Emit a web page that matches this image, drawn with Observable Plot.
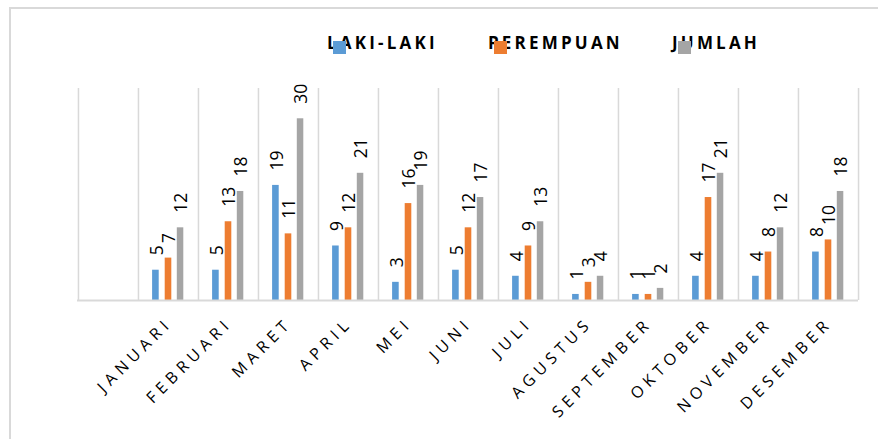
<!DOCTYPE html>
<html><head><meta charset="utf-8">
<script src="https://cdn.jsdelivr.net/npm/d3@7"></script>
<script src="https://cdn.jsdelivr.net/npm/@observablehq/plot@0.6"></script>
<style>
body{margin:0;background:#fff;}
#wrap{position:relative;width:878px;height:439px;overflow:hidden;font-family:"Open Sans",sans-serif;background:#fff;}
#frame{position:absolute;left:9px;top:7px;width:900px;height:460px;border-top:2px solid #d9d9d9;border-left:2px solid #d9d9d9;box-sizing:border-box;}
#legend{position:relative;height:70px;}
.li{position:absolute;top:34px;font-weight:700;font-size:17px;line-height:1;letter-spacing:3.2px;color:#000;white-space:nowrap;}
.sw{position:absolute;top:41px;width:13px;height:13px;}
#chart{position:relative;}
</style></head><body>
<div id="wrap"><div id="frame"></div><div id="legend"></div><div id="chart"></div></div>
<script>
const months = ["JANUARI","FEBRUARI","MARET","APRIL","MEI","JUNI","JULI","AGUSTUS","SEPTEMBER","OKTOBER","NOVEMBER","DESEMBER"];
const laki = [5,5,19,9,3,5,4,1,1,4,4,8];
const perempuan = [7,13,11,12,16,12,9,3,1,17,8,10];
const jumlah = [12,18,30,21,19,17,13,4,2,21,12,18];
const seriesNames = ["LAKI-LAKI","PEREMPUAN","JUMLAH"];
const seriesColors = ["#5b9bd5","#ed7d31","#a5a5a5"];
const seriesValues = [laki, perempuan, jumlah];

// x domain has an empty first slot as in the reference
const xDomain = ["", ...months];

// legend
const legendPos = [327, 488, 672];
const legend = document.getElementById("legend");
seriesNames.forEach((name, i) => {
  const t = document.createElement("span");
  t.className = "li"; t.textContent = name; t.style.left = legendPos[i] + "px";
  legend.appendChild(t);
  const s = document.createElement("span");
  s.className = "sw"; s.style.left = (legendPos[i] + 6) + "px"; s.style.background = seriesColors[i];
  legend.appendChild(s);
});

const insets = [[14.1, 39.3], [26.7, 26.7], [38.8, 14.7]];
const labelDx = [-11.3, 1, 13.3];

const marks = [];
marks.push(Plot.ruleX(xDomain, {x: d => d, dx: -30.04, y1: 0, y2: 35, stroke: "#d9d9d9", strokeWidth: 1.5}));
marks.push(Plot.ruleX([months[months.length - 1]], {x: d => d, dx: 30.04, y1: 0, y2: 35, stroke: "#d9d9d9", strokeWidth: 1.5}));
seriesNames.forEach((name, si) => {
  const rows = months.map((m, i) => ({month: m, value: seriesValues[si][i]}));
  marks.push(Plot.barY(rows, {x: "month", y: "value", fill: seriesColors[si], insetLeft: insets[si][0], insetRight: insets[si][1]}));
});
marks.push(Plot.ruleY([0], {stroke: "#d9d9d9", strokeWidth: 2}));
seriesNames.forEach((name, si) => {
  const rows = months.map((m, i) => ({month: m, value: seriesValues[si][i]}));
  marks.push(Plot.text(rows, {x: "month", y: "value", text: d => String(d.value), rotate: -90, textAnchor: "start", dx: labelDx[si], dy: -15, fontSize: 17.5, fill: "#000"}));
});
marks.push(Plot.axisX({tickRotate: -45, tickSize: 0, tickPadding: 16, dx: 1, dy: 4, fontSize: 16, fill: "#000", label: null}));

const chart = Plot.plot({
  width: 878,
  height: 369,
  marginLeft: 77,
  marginRight: 20,
  marginTop: 18,
  marginBottom: 139,
  style: {fontFamily: "'Open Sans', sans-serif", color: "#000", background: "transparent"},
  x: {domain: xDomain, padding: 0, axis: null, label: null},
  y: {domain: [0, 35], axis: null},
  marks
});
d3.select(chart).selectAll('g[aria-label="x-axis tick label"] text').style("letter-spacing", "5px");
document.getElementById("chart").appendChild(chart);
</script>
</body></html>
